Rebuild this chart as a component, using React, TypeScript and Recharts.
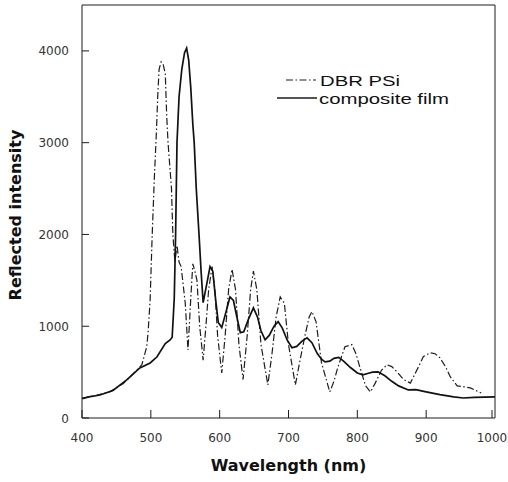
import { LineChart, Line, XAxis, YAxis, Legend, Label } from "recharts";

// DBR PSi (dash-dot curve)
const dbrWavelength = [
  400, 420, 440, 460, 480, 487, 494, 496, 499, 502, 505, 508, 510, 512, 515, 518, 521, 523, 525, 528,
  530, 532, 535, 538, 541, 544, 547, 550, 554, 558, 561, 564, 567, 571, 576, 580, 584, 589, 593, 597,
  603, 608, 613, 618, 623, 628, 634, 640, 645, 649, 654, 660, 670, 676, 682, 688, 694, 700, 710, 716,
  724, 730, 734, 740, 748, 760, 766, 772, 782, 792, 798, 804, 812, 819, 826, 835, 843, 850, 858, 867,
  877, 881, 889, 896, 906, 913, 920, 928, 935, 945, 955, 964, 972, 980,
];
const dbrIntensity = [
  215, 245, 285, 375, 525, 580, 776, 929, 1290, 2000, 2600, 3100, 3500, 3800, 3880, 3850, 3750, 3300, 3000, 2700,
  2500, 2000, 1700, 1880, 1700, 1650, 1450, 1250, 740, 1300, 1680, 1600, 1500, 1000, 630, 1000, 1400, 1650, 1400, 900,
  490, 900, 1400, 1620, 1400, 800, 420, 900, 1400, 1600, 1400, 800, 360, 700, 1100, 1320, 1250, 800, 360, 600,
  900, 1100, 1160, 1050, 600, 284, 400, 560, 776, 800, 700, 546, 350, 284, 380, 520, 580, 560, 500, 420,
  380, 440, 560, 670, 710, 700, 656, 560, 450, 350, 340, 328, 300, 273,
];

// composite film (solid curve)
const compWavelength = [
  400, 410, 426, 445, 465, 484, 499, 509, 521, 528, 531, 534, 536, 538, 541, 545, 549, 552, 555, 558,
  561, 563, 566, 570, 573, 576, 581, 586, 590, 594, 598, 603, 609, 615, 620, 625, 630, 635, 642, 649,
  655, 660, 666, 672, 679, 685, 691, 698, 705, 712, 720, 727, 734, 742, 748, 753, 760, 766, 773, 780,
  790, 800, 808, 815, 822, 830, 840, 850, 860, 874, 885, 900, 920, 940, 954, 970, 985, 1000,
];
const compIntensity = [
  210, 230, 251, 300, 415, 546, 600, 667, 810, 850, 880, 1300, 2000, 3000, 3500, 3800, 3980, 4030, 3900, 3600,
  3200, 3000, 2500, 2000, 1600, 1257, 1450, 1650, 1600, 1300, 1040, 985, 1150, 1320, 1280, 1100, 930, 940, 1080, 1200,
  1100, 950, 852, 900, 1000, 1050, 980, 850, 765, 780, 840, 874, 820, 700, 640, 612, 620, 650, 660, 620,
  550, 490, 470, 485, 500, 503, 460, 400, 350, 306, 310, 285, 255, 230, 218, 225, 228, 230,
];

const xTicks = [400, 500, 600, 700, 800, 900, 1000];
const yTicks = [0, 1000, 2000, 3000, 4000];
const topTicks = [500, 600, 700, 800, 900];
const rightTicks = [1000, 2000, 3000, 4000];

const dbrData = dbrWavelength.map((w, i) => ({ w, v: dbrIntensity[i] }));
const compData = compWavelength.map((w, i) => ({ w, v: compIntensity[i] }));

const INK = "#1c1c1c";
const TICK_FONT = "DejaVu Sans, sans-serif";
const DBR_DASH = "7 2.5 1.5 2.5";

// inward-pointing tick marks, drawn by hand
function BottomTick({ x, y, payload }: any) {
  return (
    <g>
      <line x1={x} y1={y} x2={x} y2={y - 8} stroke={INK} />
      <text x={x} y={y + 24} textAnchor="middle" fontFamily={TICK_FONT} fontSize={12} fill="#333">
        {payload.value}
      </text>
    </g>
  );
}

function LeftTick({ x, y, payload }: any) {
  return (
    <g>
      <line x1={x} y1={y} x2={x + 7} y2={y} stroke={INK} />
      <text x={x - 13} y={y + 4.5} textAnchor="end" fontFamily={TICK_FONT} fontSize={12} fill="#333">
        {payload.value}
      </text>
    </g>
  );
}

function TopTick({ x, y }: any) {
  return <line x1={x} y1={y} x2={x} y2={y + 7} stroke={INK} />;
}

function RightTick({ x, y }: any) {
  return <line x1={x} y1={y} x2={x - 7} y2={y} stroke={INK} />;
}

function LegendBox() {
  return (
    <svg width={200} height={46}>
      <line x1={16} y1={14} x2={46} y2={14} stroke={INK} strokeWidth={1.2} strokeDasharray={DBR_DASH} />
      <text x={50} y={20} fontFamily="Liberation Sans, Arial, sans-serif" fontSize={15} fill="#111"
        textLength={80} lengthAdjust="spacingAndGlyphs">
        DBR PSi
      </text>
      <line x1={7} y1={32} x2={47} y2={32} stroke={INK} strokeWidth={1.6} />
      <text x={49} y={38} fontFamily="Liberation Sans, Arial, sans-serif" fontSize={15} fill="#111"
        textLength={130} lengthAdjust="spacingAndGlyphs">
        composite film
      </text>
    </svg>
  );
}

export default function App() {
  return (
    <div style={{ position: "absolute", left: 0, top: 0, width: 508, height: 482, background: "#fff" }}>
      <LineChart width={508} height={482} margin={{ top: 4, right: 12, bottom: 24, left: 22 }}>
        <XAxis
          dataKey="w"
          type="number"
          domain={[400, 1000]}
          ticks={xTicks}
          allowDataOverflow
          height={40}
          tickSize={0}
          tickMargin={0}
          tick={BottomTick}
          axisLine={{ stroke: INK }}
        >
          <Label
            content={({ viewBox }: any) => (
              <text
                x={viewBox.x + viewBox.width / 2}
                y={viewBox.y + 53}
                textAnchor="middle"
                fontFamily="DejaVu Sans, sans-serif"
                fontWeight="bold"
                fontSize={16}
                fill="#111"
              >
                Wavelength (nm)
              </text>
            )}
          />
        </XAxis>
        <XAxis
          xAxisId="top"
          orientation="top"
          dataKey="w"
          type="number"
          domain={[400, 1000]}
          ticks={topTicks}
          height={1}
          tickSize={0}
          tickMargin={0}
          tick={TopTick}
          axisLine={{ stroke: INK }}
        />
        <YAxis
          type="number"
          domain={[0, 4500]}
          ticks={yTicks}
          allowDataOverflow
          width={60}
          tickSize={0}
          tickMargin={0}
          tick={LeftTick}
          axisLine={{ stroke: INK }}
        >
          <Label
            content={() => (
              <text
                x={15}
                y={215}
                transform="rotate(-90 15 215)"
                textAnchor="middle"
                dominantBaseline="central"
                fontFamily="DejaVu Sans, sans-serif"
                fontWeight="bold"
                fontSize={16}
                fill="#111"
              >
                Reflected intensity
              </text>
            )}
          />
        </YAxis>
        <YAxis
          yAxisId="right"
          orientation="right"
          type="number"
          domain={[0, 4500]}
          ticks={rightTicks}
          width={1}
          tickSize={0}
          tickMargin={0}
          tick={RightTick}
          axisLine={{ stroke: INK }}
        />
        <Legend
          layout="vertical"
          align="center"
          verticalAlign="middle"
          content={LegendBox}
          wrapperStyle={{ left: 270, top: 66, width: 200, height: 46 }}
        />
        <Line
          data={dbrData}
          dataKey="v"
          name="DBR PSi"
          type="linear"
          stroke={INK}
          strokeWidth={1.2}
          strokeDasharray={DBR_DASH}
          dot={false}
          activeDot={false}
          isAnimationActive={false}
        />
        <Line
          data={compData}
          dataKey="v"
          name="composite film"
          type="linear"
          stroke="#111"
          strokeWidth={1.7}
          dot={false}
          activeDot={false}
          isAnimationActive={false}
        />
      </LineChart>
    </div>
  );
}
